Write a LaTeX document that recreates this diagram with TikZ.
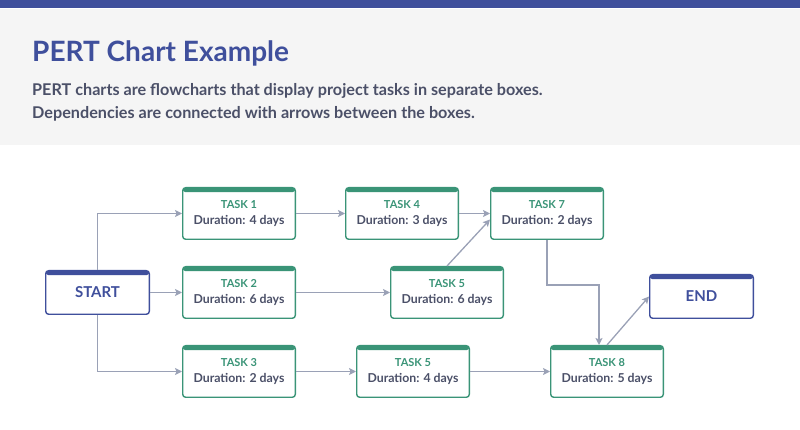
\documentclass[tikz,border=0pt]{standalone}
\usepackage{fontspec}
\setmainfont{Lato}
\usetikzlibrary{positioning, arrows, arrows.meta}
\definecolor{pertblue}{HTML}{3F4F9C}
\definecolor{pertgreen}{HTML}{3A9477}
\definecolor{pertgray}{HTML}{9AA1B6}
\definecolor{pertink}{HTML}{4B5068}
\definecolor{pertpaper}{HTML}{F5F5F5}
\tikzset{
    >={Stealth[length=7pt, width=7pt, inset=1.5pt]}, % arrow heads
    link/.style={->, draw=pertgray, line width=1.3pt}, % the connectors
    box/.style={draw, fill=white, rounded corners=3pt, line width=1.4pt, align=center, inner sep=0pt, font=\bfseries},
    task/.style={box, draw=pertgreen, minimum width=112.6pt, minimum height=51.6pt,
        path picture={\fill[pertgreen] (path picture bounding box.north west) rectangle ([yshift=-4.5pt]path picture bounding box.north east);}},
    terminal/.style={box, draw=pertblue, text=pertblue, minimum width=103.6pt, minimum height=43.6pt,
        font=\bfseries\fontsize{15}{17}\selectfont,
        path picture={\fill[pertblue] (path picture bounding box.north west) rectangle ([yshift=-4.5pt]path picture bounding box.north east);}},
    node distance=26pt, % vertical gap between the task rows
}
\newcommand{\tasklabel}[2]{{\color{pertgreen}\fontsize{11}{13}\selectfont TASK #1}\\[3.5pt]{\color{pertink}\fontsize{12.3}{14}\selectfont Duration: #2 days}}

\begin{document}
\begin{tikzpicture}[x=1pt, y=1pt]
    \useasboundingbox (0,0) rectangle (800,430);
    % header
    \fill[pertpaper] (0,285) rectangle (800,421);
    \fill[pertblue] (0,422) rectangle (800,430);
    \node[anchor=base west, inner sep=0pt, text=pertblue, font=\bfseries\fontsize{28}{34}\selectfont] (title) at (32,368) {PERT Chart Example};
    \node[anchor=base west, inner sep=0pt, text=pertink, font=\bfseries\fontsize{16.2}{19}\selectfont] (sub1) at (32,334) {PERT charts are flowcharts that display project tasks in separate boxes.};
    \node[anchor=base west, inner sep=0pt, text=pertink, font=\bfseries\fontsize{16.2}{19}\selectfont] (sub2) at (32,311) {Dependencies are connected with arrows between the boxes.};

    % chart
    \node[terminal] (start) at (97.5,137.5) {START};
    \node[task, right=32pt of start] (t2) {\tasklabel{2}{6}};
    \node[task, above=of t2] (t1) {\tasklabel{1}{4}};
    \node[task, below=of t2] (t3) {\tasklabel{3}{2}};
    \node[task, right=49pt of t1] (t4) {\tasklabel{4}{3}};
    \node[task, right=31pt of t4] (t7) {\tasklabel{7}{2}};
    \node[task, right=94pt of t2] (t5) {\tasklabel{5}{6}};
    \node[task, right=60pt of t3] (t5b) {\tasklabel{5}{4}};
    \node[task, right=80pt of t5b] (t8) {\tasklabel{8}{5}};
    \node[terminal, right=145pt of t5, yshift=-4pt] (end) {END};

    \draw[link] (start.north) |- (t1.west);
    \draw[link] (start) -- (t2);
    \draw[link] (start.south) |- (t3.west);
    \draw[link] (t1) -- (t4);
    \draw[link] (t4) -- (t7);
    \draw[link] (t2) -- (t5);
    \draw[link] (t5.north) -- ([yshift=-6pt]t7.west);
    \draw[link] (t3) -- (t5b);
    \draw[link] (t5b) -- (t8);
    \draw[link] (t7.south) -- ++(0,-45) -| ([xshift=-8pt]t8.north);
    \draw[link] (t8.north) -- (end.west);
\end{tikzpicture}
\end{document}
